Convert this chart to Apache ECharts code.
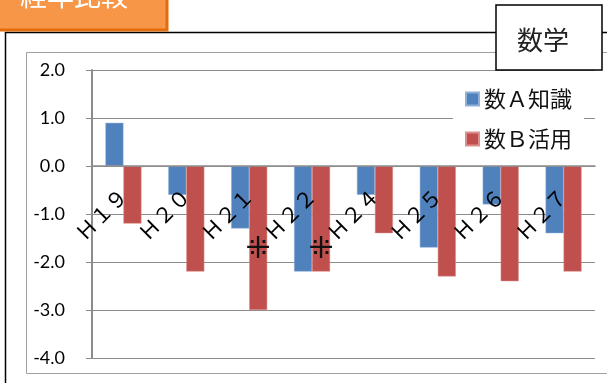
<!DOCTYPE html>
<html>
<head>
<meta charset="utf-8">
<script src="https://cdn.jsdelivr.net/npm/echarts@6/dist/echarts.min.js"></script>
<style>
  html, body { margin: 0; padding: 0; background: #fff; }
  #main { width: 607px; height: 383px; }
</style>
</head>
<body>
<div id="main"></div>
<script>
// 年度
const categories = ['Ｈ１９', 'Ｈ２０', 'Ｈ２１', 'Ｈ２２', 'Ｈ２４', 'Ｈ２５', 'Ｈ２６', 'Ｈ２７']
// 全国との差
const mathA = [0.9, -0.6, -1.3, -2.2, -0.6, -1.7, -0.8, -1.4]
const mathB = [-1.2, -2.2, -3.0, -2.2, -1.4, -2.3, -2.4, -2.2]
const noteMarks = ['', '', '⁜', '⁜', '', '', '', '']
const yTicks = [-4, -3, -2, -1, 0, 1, 2]

const chart = echarts.init(document.getElementById('main'))

const option = {
  animation: false,
  backgroundColor: '#fff',
  grid: { left: 92, right: 12, top: 70, bottom: 25, containLabel: false, outerBoundsMode: 'none' },
  legend: {
    orient: 'vertical',
    left: 453,
    top: 80,
    padding: [8, 12, 8, 12],
    backgroundColor: '#fff',
    itemWidth: 13,
    itemHeight: 13,
    itemGap: 18,
    icon: 'rect',
    textStyle: { fontSize: 22, color: '#111', fontFamily: 'Noto Sans CJK JP' },
    data: ['数Ａ知識', '数Ｂ活用']
  },
  xAxis: {
    type: 'category',
    data: categories,
    // 0の線にラベルを置く（grid下端から上へ移動）
    offset: -192,
    z: 5,
    axisLine: { onZero: false, lineStyle: { color: '#8c8c8c', width: 1.5 } },
    axisTick: { show: false },
    axisLabel: {
      rotate: 45,
      margin: 26,
      interval: 0,
      fontSize: 21,
      color: '#000',
      fontFamily: 'Noto Sans CJK JP'
    }
  },
  yAxis: {
    type: 'value',
    min: yTicks[0],
    max: yTicks[yTicks.length - 1],
    interval: 1,
    axisLine: { show: true, lineStyle: { color: '#8c8c8c', width: 2 } },
    axisTick: { show: true, length: 6, lineStyle: { color: '#8c8c8c' } },
    splitLine: { lineStyle: { color: '#8c8c8c', width: 1 } },
    axisLabel: {
      margin: 27,
      fontSize: 18,
      color: '#000',
      fontFamily: 'Lato',
      formatter: v => v.toFixed(1)
    }
  },
  series: [
    {
      name: '数Ａ知識',
      type: 'bar',
      barWidth: 18,
      barGap: 0,
      itemStyle: { color: '#4F81BD', borderColor: '#8fb0d8', borderWidth: 0.5 },
      data: mathA
    },
    {
      name: '数Ｂ活用',
      type: 'bar',
      barWidth: 18,
      barGap: 0,
      itemStyle: { color: '#C0504D', borderColor: '#dc8f8d', borderWidth: 0.5 },
      data: mathB.map((v, i) => ({
        value: v,
        label: {
          show: noteMarks[i] !== '',
          position: ['50%', 84],
          align: 'center',
          verticalAlign: 'middle',
          formatter: noteMarks[i],
          fontSize: 30,
          color: '#111',
          fontFamily: 'DejaVu Sans'
        }
      }))
    }
  ],
  graphic: [
    // 外枠
    {
      type: 'rect', z: -10,
      shape: { x: 5.5, y: 32.5, width: 700, height: 400 },
      style: { fill: 'none', stroke: '#000', lineWidth: 1.5 }
    },
    {
      type: 'rect', z: -9,
      shape: { x: 26.5, y: 52.5, width: 700, height: 321 },
      style: { fill: 'none', stroke: '#a0a0a0', lineWidth: 1 }
    },
    // 経年比較タブ
    {
      type: 'rect', z: 50,
      shape: { x: -5, y: -10, width: 172, height: 40 },
      style: { fill: '#F79646', stroke: '#E46C0A', lineWidth: 3 }
    },
    {
      type: 'text', z: 51,
      x: 74, y: -4,
      style: {
        text: '経年比較', fill: '#fff', fontSize: 27,
        fontFamily: 'Noto Sans CJK JP', align: 'center', verticalAlign: 'middle'
      }
    },
    // タイトル
    {
      type: 'rect', z: 50,
      shape: { x: 496, y: 5, width: 106, height: 65 },
      style: { fill: '#fff', stroke: '#000', lineWidth: 1.5 }
    },
    {
      type: 'text', z: 51,
      x: 543, y: 40,
      style: {
        text: '数学', fill: '#222', fontSize: 26,
        fontFamily: 'Noto Sans CJK JP', align: 'center', verticalAlign: 'middle'
      }
    }
  ]
}

chart.setOption(option)
</script>
</body>
</html>
